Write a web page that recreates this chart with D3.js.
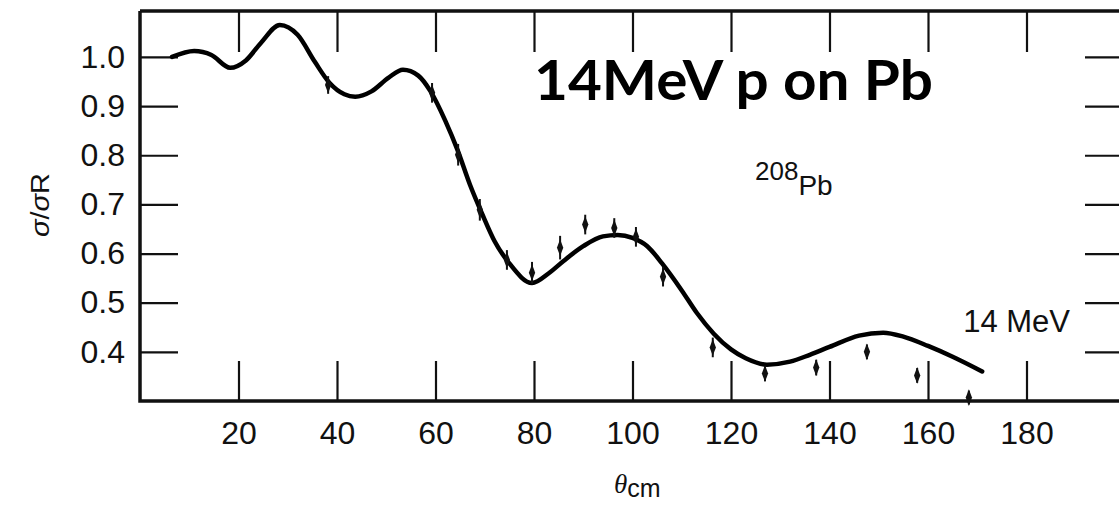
<!DOCTYPE html>
<html><head><meta charset="utf-8">
<script src="https://cdn.jsdelivr.net/npm/d3@7"></script>
<style>html,body{margin:0;padding:0;background:#fff;overflow:hidden}</style>
</head><body>
<svg id="c" width="1119" height="505"></svg>
<script>
// ---- data ----
const xTicks = [20, 40, 60, 80, 100, 120, 140, 160, 180];
const yTicks = [0.4, 0.5, 0.6, 0.7, 0.8, 0.9, 1.0];
const yTickLabels = ["0.4", "0.5", "0.6", "0.7", "0.8", "0.9", "1.0"];
// optical-model curve (theta_cm, sigma/sigmaR)
const curveTheta = [6.5, 11, 14.5, 18.3, 21.5, 24.5, 28.4, 32, 35.5, 38.5, 41.5, 43.7, 47, 50.5, 53.4, 56.5, 59, 62, 64.5, 67, 69.5, 72, 75, 79.6, 83, 86, 90, 94, 97, 100, 103, 106, 110, 113, 116.5, 120, 123, 127.3, 132, 136, 140, 146, 150.9, 155, 160, 165, 171];
const curveRatio = [1.0, 1.012, 1.004, 0.978, 0.993, 1.028, 1.065, 1.045, 0.99, 0.947, 0.924, 0.919, 0.93, 0.958, 0.974, 0.962, 0.93, 0.87, 0.81, 0.74, 0.68, 0.625, 0.58, 0.54, 0.56, 0.585, 0.615, 0.635, 0.638, 0.632, 0.615, 0.58, 0.525, 0.48, 0.437, 0.405, 0.387, 0.374, 0.38, 0.394, 0.41, 0.433, 0.439, 0.431, 0.412, 0.39, 0.36];
// measured points
const dataTheta = [38.2, 59.3, 64.6, 69.0, 74.5, 79.6, 85.3, 90.4, 96.3, 100.7, 106.2, 116.3, 126.9, 137.3, 147.6, 157.8, 168.3];
const dataRatio = [0.943, 0.927, 0.801, 0.689, 0.587, 0.561, 0.612, 0.659, 0.652, 0.634, 0.553, 0.409, 0.356, 0.368, 0.40, 0.352, 0.307];
const dataErr = [0.018, 0.02, 0.022, 0.022, 0.02, 0.022, 0.024, 0.02, 0.02, 0.02, 0.02, 0.02, 0.016, 0.016, 0.015, 0.015, 0.014];

const svg = d3.select("#c");
const x = d3.scaleLinear().domain([0, 200]).range([140, 1125]);
const y = d3.scaleLinear().domain([0.3, 1.0935]).range([401, 11]);
const font = "'Liberation Sans', Arial, sans-serif";

// axes with inward ticks
const gB = svg.append("g").attr("transform", `translate(0,${y(0.3)})`)
  .call(d3.axisBottom(x).tickValues(xTicks).tickSize(-40).tickPadding(20).tickFormat(d3.format("d")));
const gT = svg.append("g").attr("transform", `translate(0,${y(1.0935)})`)
  .call(d3.axisTop(x).tickValues(xTicks).tickSize(-41).tickFormat(""));
const gL = svg.append("g").attr("transform", `translate(${x(0)},0)`)
  .call(d3.axisLeft(y).tickValues(yTicks).tickSize(-38).tickPadding(15).tickFormat((d, i) => yTickLabels[i]));
const gR = svg.append("g").attr("transform", `translate(${x(200)},0)`)
  .call(d3.axisRight(y).tickValues(yTicks).tickSize(-40).tickFormat(""));
[gB, gT, gL, gR].forEach(g => {
  g.select(".domain").remove();
  g.selectAll(".tick line").attr("stroke", "#111").attr("stroke-width", 2.2);
  g.selectAll("text").attr("font-family", font).attr("font-size", 32).attr("fill", "#111");
});

// frame
svg.append("path")
  .attr("d", `M${x(0)},${y(1.0935)} L${x(0)},${y(0.3)} L${x(200)},${y(0.3)} M${x(0)},${y(1.0935)} L${x(200)},${y(1.0935)}`)
  .attr("fill", "none").attr("stroke", "#111").attr("stroke-width", 3.5);

// curve
const pts = curveTheta.map((t, i) => [t, curveRatio[i]]);
svg.append("path").datum(pts)
  .attr("d", d3.line().x(d => x(d[0])).y(d => y(d[1])).curve(d3.curveMonotoneX))
  .attr("fill", "none").attr("stroke", "#000").attr("stroke-width", 4.5).attr("stroke-linecap", "round").attr("stroke-linejoin", "round");

// data points with error bars
const dp = svg.append("g");
dataTheta.forEach((t, i) => {
  dp.append("line")
    .attr("x1", x(t)).attr("x2", x(t))
    .attr("y1", y(dataRatio[i] + dataErr[i])).attr("y2", y(dataRatio[i] - dataErr[i]))
    .attr("stroke", "#111").attr("stroke-width", 2);
  dp.append("path")
    .attr("transform", `translate(${x(t)},${y(dataRatio[i])}) scale(0.85,1.3)`)
    .attr("d", d3.symbol().type(d3.symbolDiamond).size(48)())
    .attr("fill", "#111");
});

// texts
svg.append("text").attr("x", 534).attr("y", 100)
  .attr("font-family", "Lato, 'Open Sans', sans-serif").attr("font-weight", "bold").attr("font-size", 56)
  .attr("textLength", 399).attr("lengthAdjust", "spacingAndGlyphs")
  .text("14MeV p on Pb");

const t208 = svg.append("text").attr("x", 755).attr("y", 195).attr("font-family", font).attr("fill", "#111");
t208.append("tspan").attr("font-size", 26).attr("dy", -15).text("208");
t208.append("tspan").attr("font-size", 28).attr("dy", 15).text("Pb");

svg.append("text").attr("x", 1070).attr("y", 332).attr("text-anchor", "end")
  .attr("font-family", font).attr("font-size", 31).attr("fill", "#111").text("14 MeV");

const xl = svg.append("text").attr("x", 614).attr("y", 493).attr("fill", "#111");
xl.append("tspan").attr("font-family", "'Liberation Serif', serif").attr("font-style", "italic").attr("font-size", 27).text("θ");
xl.append("tspan").attr("font-family", font).attr("font-size", 25).attr("dy", 4).text("cm");

svg.append("text").attr("transform", "translate(49,205) rotate(-90)").attr("text-anchor", "middle")
  .attr("font-family", font).attr("font-size", 25).attr("fill", "#111")
  .attr("textLength", 64).attr("lengthAdjust", "spacingAndGlyphs")
  .html('<tspan font-style="italic">σ</tspan>/<tspan font-style="italic">σ</tspan>R');
</script>
</body></html>
